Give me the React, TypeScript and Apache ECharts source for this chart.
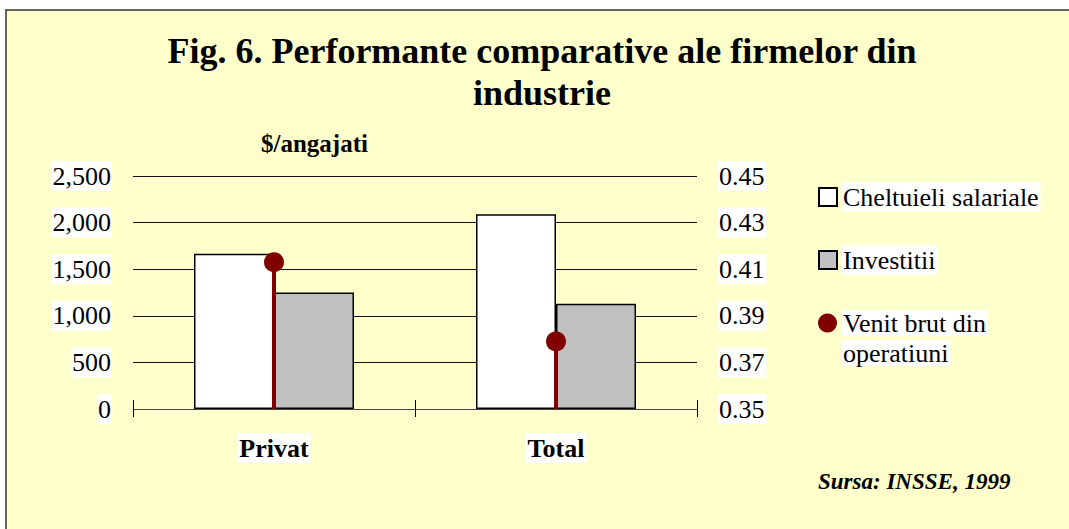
import React, { useEffect, useRef } from 'react';
import * as echarts from 'echarts';

const categories = ['Privat', 'Total'];
const cheltuieliSalariale = [1665, 2090];
const investitii = [1250, 1130];
const venitBrut = [0.413, 0.379];

const leftMin = 0;
const leftMax = 2500;
const leftStep = 500;
const rightMin = 0.35;
const rightMax = 0.45;
const rightStep = 0.02;

const titleText = 'Fig. 6. Performante comparative ale firmelor din\nindustrie';
const unitText = '$/angajati';
const sourceText = 'Sursa: INSSE, 1999';
const seriesNames = ['Cheltuieli salariale', 'Investitii', 'Venit brut din operatiuni'];

const FF = 'Liberation Serif';
const DARK_RED = '#800000';

export default function App() {
  const ref = useRef<HTMLDivElement>(null);
  useEffect(() => {
    if (!ref.current) return;
    const chart = echarts.init(ref.current, null, { renderer: 'svg' });
    const legendText = {
      fontFamily: FF,
      fontSize: 26,
      lineHeight: 30,
      color: '#000',
      backgroundColor: '#fff',
      padding: [0, 2, 0, 1],
    };
    chart.setOption({
      animation: false,
      backgroundColor: '#fff',
      textStyle: { fontFamily: FF },
      title: {
        text: titleText,
        left: 542,
        top: 30,
        padding: 0,
        textAlign: 'center',
        textStyle: { fontFamily: FF, fontSize: 36, fontWeight: 'bold', lineHeight: 42, color: '#000' },
      },
      graphic: [
        {
          type: 'rect',
          z: -100,
          silent: true,
          shape: { x: 6, y: 10, width: 1120, height: 600 },
          style: { fill: '#FFFFCC', stroke: '#333', lineWidth: 1.5 },
        },
        {
          type: 'text',
          left: 818,
          top: 470,
          style: {
            text: sourceText,
            fontFamily: FF,
            fontSize: 23,
            fontWeight: 'bold',
            fontStyle: 'italic',
            fill: '#000',
          },
        },
      ],
      legend: [
        {
          data: [{ name: seriesNames[0], icon: 'rect' }],
          left: 818, top: 182, padding: 0, itemWidth: 18, itemHeight: 18,
          selectedMode: false, textStyle: legendText,
        },
        {
          data: [{ name: seriesNames[1], icon: 'rect' }],
          left: 818, top: 245, padding: 0, itemWidth: 18, itemHeight: 18,
          selectedMode: false, textStyle: legendText,
        },
        {
          data: [{ name: seriesNames[2], icon: 'circle' }],
          left: 818, top: 278, padding: 0, itemWidth: 19, itemHeight: 19,
          selectedMode: false,
          formatter: () => '{w|Venit brut din}\n{w|operatiuni}',
          textStyle: {
            fontFamily: FF, fontSize: 26, lineHeight: 30, color: '#000',
            padding: [30, 0, 0, 0],
            rich: {
              w: { fontFamily: FF, fontSize: 26, lineHeight: 30, color: '#000', backgroundColor: '#fff', padding: [0, 2, 0, 1] },
            },
          },
        },
      ],
      grid: { left: 133, right: 372, top: 176, bottom: 120, containLabel: false },
      xAxis: [
        {
          type: 'category',
          data: categories,
          position: 'bottom',
          axisLine: { show: true, lineStyle: { color: '#444', width: 1 } },
          axisTick: { show: true, alignWithLabel: false, length: 8, lineStyle: { color: '#000', width: 1 } },
          axisLabel: {
            fontFamily: FF, fontSize: 26, fontWeight: 'bold', color: '#000', lineHeight: 30,
            backgroundColor: '#fff', padding: [0, 2, 0, 2], margin: 24,
          },
          splitLine: { show: false },
        },
        {
          type: 'category',
          data: categories,
          position: 'bottom',
          axisLine: { show: false },
          axisTick: { show: true, inside: true, alignWithLabel: false, length: 9, lineStyle: { color: '#000', width: 1 } },
          axisLabel: { show: false },
          splitLine: { show: false },
        },
      ],
      yAxis: [
        {
          type: 'value',
          min: leftMin, max: leftMax, interval: leftStep,
          name: unitText,
          nameLocation: 'end',
          nameGap: 20,
          nameTextStyle: {
            fontFamily: FF, fontSize: 25, fontWeight: 'bold', color: '#000',
            align: 'left', verticalAlign: 'bottom', padding: [0, 0, 0, 128],
          },
          axisLine: { show: false },
          axisTick: { show: false },
          axisLabel: {
            fontFamily: FF, fontSize: 26, color: '#000', lineHeight: 30,
            backgroundColor: '#fff', padding: [0, 1, 0, 1], margin: 21,
            formatter: (v: number) => v.toLocaleString('en-US'),
          },
          splitLine: { show: true, lineStyle: { color: '#111', width: 1 } },
        },
        {
          type: 'value',
          min: rightMin, max: rightMax, interval: rightStep,
          position: 'right',
          axisLine: { show: false },
          axisTick: { show: false },
          axisLabel: {
            fontFamily: FF, fontSize: 26, color: '#000', lineHeight: 30,
            backgroundColor: '#fff', padding: [0, 2, 0, 1], margin: 21,
            formatter: (v: number) => v.toFixed(2),
          },
          splitLine: { show: false },
        },
      ],
      series: [
        {
          name: seriesNames[0],
          type: 'bar',
          xAxisIndex: 0, yAxisIndex: 0,
          data: cheltuieliSalariale,
          barWidth: 80,
          barGap: '0%',
          itemStyle: { color: '#FFFFFF', borderColor: '#000', borderWidth: 1.5 },
        },
        {
          name: seriesNames[1],
          type: 'bar',
          xAxisIndex: 0, yAxisIndex: 0,
          data: investitii,
          barWidth: 80,
          barGap: '0%',
          itemStyle: { color: '#C0C0C0', borderColor: '#000', borderWidth: 1.5 },
        },
        {
          name: 'stem',
          type: 'bar',
          xAxisIndex: 1, yAxisIndex: 1,
          data: venitBrut,
          barWidth: 4,
          clip: true,
          z: 3,
          itemStyle: { color: DARK_RED, opacity: 1 },
        },
        {
          name: seriesNames[2],
          type: 'scatter',
          xAxisIndex: 1, yAxisIndex: 1,
          data: venitBrut,
          symbol: 'circle',
          symbolSize: 20,
          z: 4,
          itemStyle: { color: DARK_RED, opacity: 1 },
        },
      ],
    });
    return () => chart.dispose();
  }, []);
  return (
    <div
      ref={ref}
      style={{ position: 'fixed', left: 0, top: 0, width: 1069, height: 529 }}
    />
  );
}
